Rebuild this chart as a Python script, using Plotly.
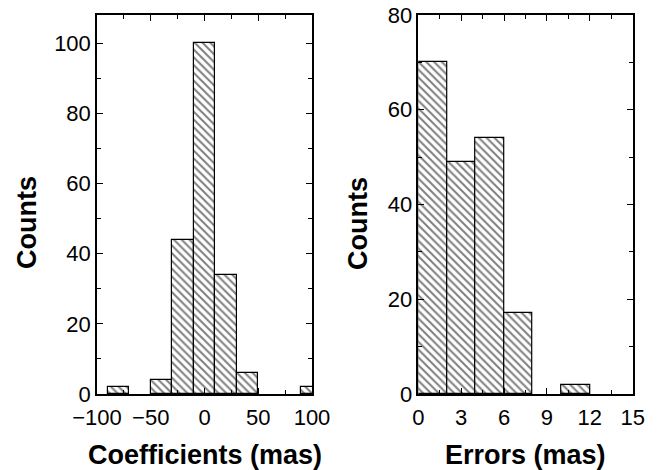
import plotly.graph_objects as go

# Left histogram: coefficients (mas)
coef_centers = [-80, -40, -20, 0, 20, 40, 100]
coef_counts = [2, 4, 44, 100, 34, 6, 2]
coef_width = 20

# Right histogram: errors (mas)
err_centers = [1, 3, 5, 7, 11]
err_counts = [70, 49, 54, 17, 2]
err_width = 2

coef_ticks = [-100, -50, 0, 50, 100]
coef_ticktext = ["\u2212100", "\u221250", "0", "50", "100"]
coef_yticks = [0, 20, 40, 60, 80, 100]
err_ticks = [0, 3, 6, 9, 12, 15]
err_yticks = [0, 20, 40, 60, 80]

FONT = "Liberation Sans, Arial, sans-serif"
pattern = dict(shape="\\", size=5.5, solidity=0.36, fgcolor="black", bgcolor="white", fillmode="overlay")

fig = go.Figure()
fig.add_trace(go.Bar(x=coef_centers, y=coef_counts, width=coef_width,
                     marker=dict(color="white", line=dict(color="black", width=1.2), pattern=pattern),
                     xaxis="x", yaxis="y", showlegend=False))
fig.add_trace(go.Bar(x=err_centers, y=err_counts, width=err_width,
                     marker=dict(color="white", line=dict(color="black", width=1.2), pattern=pattern),
                     xaxis="x2", yaxis="y2", showlegend=False))

ax_common = dict(showline=True, linecolor="black", linewidth=1.5, mirror="allticks",
                 ticks="inside", ticklen=6, tickwidth=1, tickcolor="black",
                 showgrid=False, zeroline=False, automargin=False,
                 tickfont=dict(family=FONT, size=22, color="black"))

ydom = [1 - 394 / 470, 1 - 15 / 470]
fig.update_layout(
    width=669, height=470,
    margin=dict(l=0, r=0, t=0, b=0),
    paper_bgcolor="white", plot_bgcolor="white",
    bargap=0,
    xaxis=dict(domain=[97 / 669, 312 / 669], range=[-100, 100], tickvals=coef_ticks,
               ticktext=coef_ticktext, ticklabelstandoff=3,
               minor=dict(ticks="inside", ticklen=4, dtick=25, tick0=0, tickcolor="black"),
               anchor="y", **ax_common),
    yaxis=dict(domain=ydom, range=[0, 108], tickvals=coef_yticks,
               minor=dict(ticks="inside", ticklen=4, dtick=10, tick0=0, tickcolor="black"),
               anchor="x", **ax_common),
    xaxis2=dict(domain=[418.3 / 669, 632.7 / 669], range=[0, 15], tickvals=err_ticks,
                ticklabelstandoff=3,
                minor=dict(ticks="inside", ticklen=4, dtick=1.5, tick0=0, tickcolor="black"),
                anchor="y2", **ax_common),
    yaxis2=dict(domain=ydom, range=[0, 80], tickvals=err_yticks,
                minor=dict(ticks="inside", ticklen=4, dtick=10, tick0=0, tickcolor="black"),
                anchor="x2", **ax_common),
)

title_font = dict(family=FONT, size=27, color="black")
fig.add_annotation(text="<b>Coefficients (mas)</b>", x=205 / 669, y=1 - 455 / 470,
                   xref="paper", yref="paper", showarrow=False, font=title_font,
                   xanchor="center", yanchor="middle")
fig.add_annotation(text="<b>Errors (mas)</b>", x=525 / 669, y=1 - 455 / 470,
                   xref="paper", yref="paper", showarrow=False, font=title_font,
                   xanchor="center", yanchor="middle")
fig.add_annotation(text="<b>Counts</b>", x=27 / 669, y=1 - 223 / 470,
                   xref="paper", yref="paper", showarrow=False, font=title_font,
                   textangle=-90, xanchor="center", yanchor="middle")
fig.add_annotation(text="<b>Counts</b>", x=358 / 669, y=1 - 223 / 470,
                   xref="paper", yref="paper", showarrow=False, font=title_font,
                   textangle=-90, xanchor="center", yanchor="middle")

fig.write_html("out.html", config={"displayModeBar": False},
               post_script="document.body.style.margin='0';document.body.style.overflow='hidden';")
